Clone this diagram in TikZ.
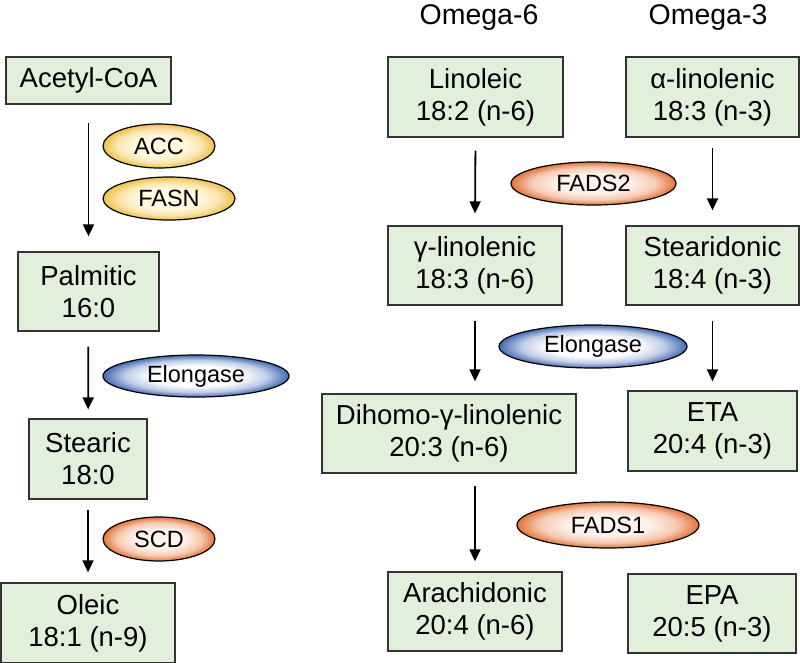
\documentclass[tikz,border=0pt]{standalone}
\usepackage{fontspec}
\setmainfont{Liberation Sans}
\usetikzlibrary{shapes.geometric,arrows.meta}
\definecolor{boxfill}{HTML}{E2EFDA}
\definecolor{boxline}{HTML}{333333}
\definecolor{yelin}{HTML}{FFF8DE}
\definecolor{yelout}{HTML}{EEB938}
\colorlet{yelmid}{yelin!70!yelout}
\colorlet{yelmidb}{yelin!30!yelout}
\definecolor{orgin}{HTML}{FEF3EC}
\definecolor{orgout}{HTML}{DF6526}
\colorlet{orgmid}{orgin!70!orgout}
\colorlet{orgmidb}{orgin!30!orgout}
\definecolor{bluin}{HTML}{FFFFFF}
\definecolor{bluout}{HTML}{2F5BAA}
\colorlet{blumid}{bluin!70!bluout}
\colorlet{blumidb}{bluin!30!bluout}
\pgfdeclareradialshading{yelshade}{\pgfpoint{0bp}{0bp}}{color(0bp)=(yelin); color(12bp)=(yelin); color(19bp)=(yelmid); color(23bp)=(yelmidb); color(26bp)=(yelout); color(50bp)=(yelout)}
\pgfdeclareradialshading{orgshade}{\pgfpoint{0bp}{0bp}}{color(0bp)=(orgin); color(11bp)=(orgin); color(19bp)=(orgmid); color(23bp)=(orgmidb); color(26bp)=(orgout); color(50bp)=(orgout)}
\pgfdeclareradialshading{blushade}{\pgfpoint{0bp}{0bp}}{color(0bp)=(bluin); color(12bp)=(bluin); color(19bp)=(blumid); color(23bp)=(blumidb); color(26bp)=(bluout); color(50bp)=(bluout)}
\begin{document}
\begin{tikzpicture}[x=1pt,y=-1pt,
  box/.style={rectangle, draw=boxline, line width=1.3pt, fill=boxfill, inner sep=0pt, align=center, font=\fontsize{27.5}{32}\selectfont},
  enz/.style={ellipse, draw=black, line width=1.2pt, inner sep=0pt, font=\fontsize{23.5}{27}\selectfont, shade},
  flow/.style={-{Triangle[length=12pt,width=11pt]}, line width=1.8pt},
  hdr/.style={anchor=base, inner sep=0pt, font=\fontsize{28.5}{32}\selectfont}]
\useasboundingbox (0,0) rectangle (800,662);

% headers
\node[hdr] (h6) at (479,24) {Omega-6};
\node[hdr] (h3) at (708,24) {Omega-3};

% left column
\node[box, minimum width=165pt, minimum height=47pt] (acetyl) at (88.5,80.5) {Acetyl-CoA};
\node[box, minimum width=141pt, minimum height=79pt] (palm) at (88.5,291.5) {Palmitic\\16:0};
\node[box, minimum width=118pt, minimum height=80pt] (stear) at (88,459) {Stearic\\18:0};
\node[box, minimum width=174pt, minimum height=80pt] (oleic) at (88,623) {Oleic\\18:1 (n-9)};

% omega-6 column
\node[box, minimum width=175pt, minimum height=80pt] (lin) at (475.5,97) {Linoleic\\18:2 (n-6)};
\node[box, minimum width=174pt, minimum height=79pt] (gam) at (475,265.5) {γ-linolenic\\18:3 (n-6)};
\node[box, minimum width=254pt, minimum height=79pt] (dgla) at (449,433.5) {Dihomo-γ-linolenic\\20:3 (n-6)};
\node[box, minimum width=174pt, minimum height=79pt] (ara) at (475,611.5) {Arachidonic\\20:4 (n-6)};

% omega-3 column
\node[box, minimum width=173pt, minimum height=80pt] (ala) at (712.5,97) {α-linolenic\\18:3 (n-3)};
\node[box, minimum width=173pt, minimum height=79pt] (sda) at (712.5,265.5) {Stearidonic\\18:4 (n-3)};
\node[box, minimum width=169pt, minimum height=80pt] (eta) at (712.5,431) {ETA\\20:4 (n-3)};
\node[box, minimum width=168pt, minimum height=79pt] (epa) at (712,613.5) {EPA\\20:5 (n-3)};

% enzymes
\node[enz, shading=yelshade, minimum width=112pt, minimum height=44pt] (acc) at (159,146) {ACC};
\node[enz, shading=yelshade, minimum width=132pt, minimum height=43pt] (fasn) at (169,198.5) {FASN};
\node[enz, shading=blushade, minimum width=186pt, minimum height=42pt] (elol) at (196,376) {Elongase};
\node[enz, shading=orgshade, minimum width=112pt, minimum height=44pt] (scd) at (159,539) {SCD};
\node[enz, shading=orgshade, minimum width=165pt, minimum height=43pt] (fads2) at (593.5,183.5) {FADS2};
\node[enz, shading=blushade, minimum width=188pt, minimum height=43pt] (elor) at (593,346.5) {Elongase};
\node[enz, shading=orgshade, minimum width=182pt, minimum height=46pt] (fads1) at (608,525) {FADS1};

% arrows
\draw[flow, shorten <=18pt, shorten >=15pt] (acetyl) -- (palm);
\draw[flow, shorten <=15pt, shorten >=9pt] (palm) -- (stear);
\draw[flow, shorten <=10pt, shorten >=10pt] (stear) -- (oleic);
\draw[flow, shorten <=13pt, shorten >=12pt] (lin.south) -- (gam.north);
\draw[flow, shorten <=15pt, shorten >=12pt] (gam) -- (gam |- dgla.north);
\draw[flow, shorten <=12pt, shorten >=10pt] (dgla.south -| ara.north) -- (ara.north);
\draw[flow, shorten <=10pt, shorten >=15pt] (ala) -- (sda);
\draw[flow, shorten <=15pt, shorten >=9pt] (sda) -- (eta);
\end{tikzpicture}
\end{document}
